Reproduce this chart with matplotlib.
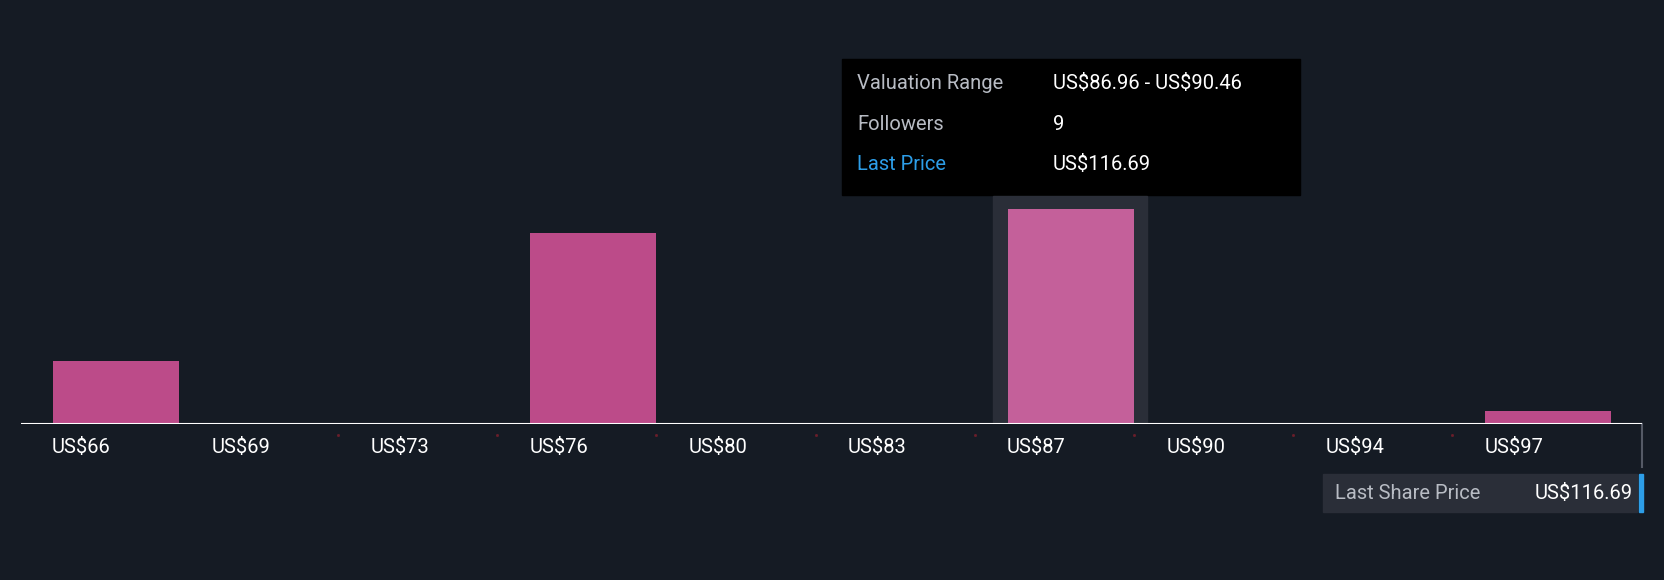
import matplotlib
matplotlib.use("Agg")
import matplotlib.pyplot as plt
from matplotlib.patches import Rectangle

plt.rcParams['font.family'] = ['Roboto', 'DejaVu Sans']
plt.rcParams['text.parse_math'] = False

labels = ["US$66", "US$69", "US$73", "US$76", "US$80", "US$83", "US$87", "US$90", "US$94", "US$97"]
followers = [2.65, 0, 0, 8.0, 0, 0, 9.0, 0, 0, 0.55]
highlight = 6
tooltip_rows = [("Valuation Range", "US$86.96 - US$90.46"), ("Followers", "9"), ("Last Price", "US$116.69")]
last_price_text = "US$116.69"

BG = "#151b24"
W, H = 1568, 547
fig = plt.figure(figsize=(16.64, 5.8), dpi=100, facecolor=BG)

ov = fig.add_axes([0, 0, 1, 1])
ov.set_xlim(0, W); ov.set_ylim(H, 0); ov.axis("off"); ov.set_facecolor(BG)

ax = fig.add_axes([20 / W, (H - 400) / H, 1527 / W, 400 / H])
ax.patch.set_alpha(0)
ax.set_xlim(0, 1527 / 150)
ax.set_ylim(0, 400 / 22.5)
for s in ax.spines.values():
    s.set_visible(False)
ax.set_xticks([]); ax.set_yticks([])

ax.add_patch(Rectangle((highlight + 0.107, 0), 0.967, 215 / 22.5, color="#2a2e38", zorder=0))
colors = ["#c4609a" if i == highlight else "#bc4b89" for i in range(len(labels))]
ax.bar([i + 0.593 for i in range(len(labels))], followers, width=0.793, color=colors, zorder=2)
ax.axhline(0, color="white", lw=1.5, zorder=3)
for i, lab in enumerate(labels):
    ax.text(i + 0.193, -0.6, lab, color="white", fontsize=14.5, ha="left", va="top", clip_on=False)
for i in range(2, 10):
    ax.plot([i - 0.01], [-0.45], marker="s", ms=1, color="#6a1e2a", clip_on=False)

ov.add_patch(Rectangle((793, 56), 432, 128, color="black", zorder=5))
for j, (k, v) in enumerate(tooltip_rows):
    y = 79 + 38 * j
    ov.text(808, y, k, color="#2d9ee8" if k == "Last Price" else "#b8bcc4", fontsize=14.5, va="center", zorder=6)
    ov.text(992, y, v, color="white", fontsize=14.5, va="center", zorder=6)

ov.plot([1547, 1547], [400, 440], color="#555a66", lw=1.5)
ov.add_patch(Rectangle((1247, 447), 296, 36, color="#2a2e38"))
ov.add_patch(Rectangle((1544, 447), 4, 36, color="#2d9ee8"))
ov.text(1258, 465, "Last Share Price", color="#b8bcc4", fontsize=14.5, va="center")
ov.text(1539, 465, last_price_text, color="white", fontsize=14.5, va="center", ha="right")

fig.savefig("out.png", dpi=100, facecolor=BG)
